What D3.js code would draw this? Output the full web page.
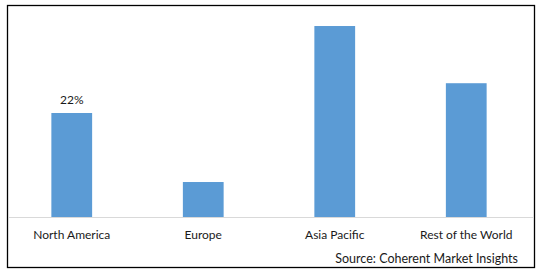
<!DOCTYPE html>
<html>
<head>
<meta charset="utf-8">
<script src="https://cdn.jsdelivr.net/npm/d3@7"></script>
<style>
  html, body { margin: 0; padding: 0; background: #fff; }
  text { font-family: "Lato", "Liberation Sans", sans-serif; fill: #1a1a1a; }
</style>
</head>
<body>
<svg id="chart" width="538" height="272"></svg>
<script>
const regions = ["North America", "Europe", "Asia Pacific", "Rest of the World"];
const shares = [22, 7.4, 40.4, 28.3];
const labels = ["22%", "", "", ""];

document.addEventListener('DOMContentLoaded', function() {
    const svg = d3.select("#chart");

    // outer frame
    svg.append("rect")
        .attr("x", 7.5).attr("y", 5.5)
        .attr("width", 527).attr("height", 262)
        .attr("fill", "none")
        .attr("stroke", "#000")
        .attr("stroke-width", 1.3);

    const xScale = d3.scaleBand()
        .domain(regions)
        .range([6, 532])
        .paddingInner(0.69)
        .paddingOuter(0.345);

    const yScale = d3.scaleLinear()
        .domain([0, 44])
        .range([217, 9]);

    const data = regions.map((r, i) => ({ key: r, value: shares[i], label: labels[i] }));

    const g = svg.append("g");

    g.selectAll(".bar")
        .data(data)
        .enter()
        .append("rect")
        .attr("class", "bar")
        .attr("x", d => xScale(d.key))
        .attr("y", d => yScale(d.value))
        .attr("width", xScale.bandwidth())
        .attr("height", d => yScale(0) - yScale(d.value))
        .style("fill", "#5b9bd5");

    // baseline
    g.append("line")
        .attr("x1", 8).attr("x2", 534)
        .attr("y1", yScale(0) + 0.5).attr("y2", yScale(0) + 0.5)
        .attr("stroke", "#d9d9d9")
        .attr("stroke-width", 1);

    const xAxis = d3.axisBottom(xScale).tickSize(0).tickPadding(0);
    const ax = g.append("g")
        .attr("transform", `translate(0,${yScale(0)})`)
        .call(xAxis);
    ax.select(".domain").remove();
    ax.selectAll("text")
        .attr("dy", null)
        .attr("y", 22)
        .style("font-size", "12px")
        .attr("fill", "#1a1a1a");

    g.selectAll(".val")
        .data(data.filter(d => d.label))
        .enter()
        .append("text")
        .attr("class", "val")
        .attr("x", d => xScale(d.key) + xScale.bandwidth() / 2)
        .attr("y", d => yScale(d.value) - 9)
        .attr("text-anchor", "middle")
        .style("font-size", "12px")
        .text(d => d.label);

    svg.append("text")
        .attr("x", 518)
        .attr("y", 263)
        .attr("text-anchor", "end")
        .style("font-size", "12.5px")
        .text("Source: Coherent Market Insights");
});
</script>
</body>
</html>
